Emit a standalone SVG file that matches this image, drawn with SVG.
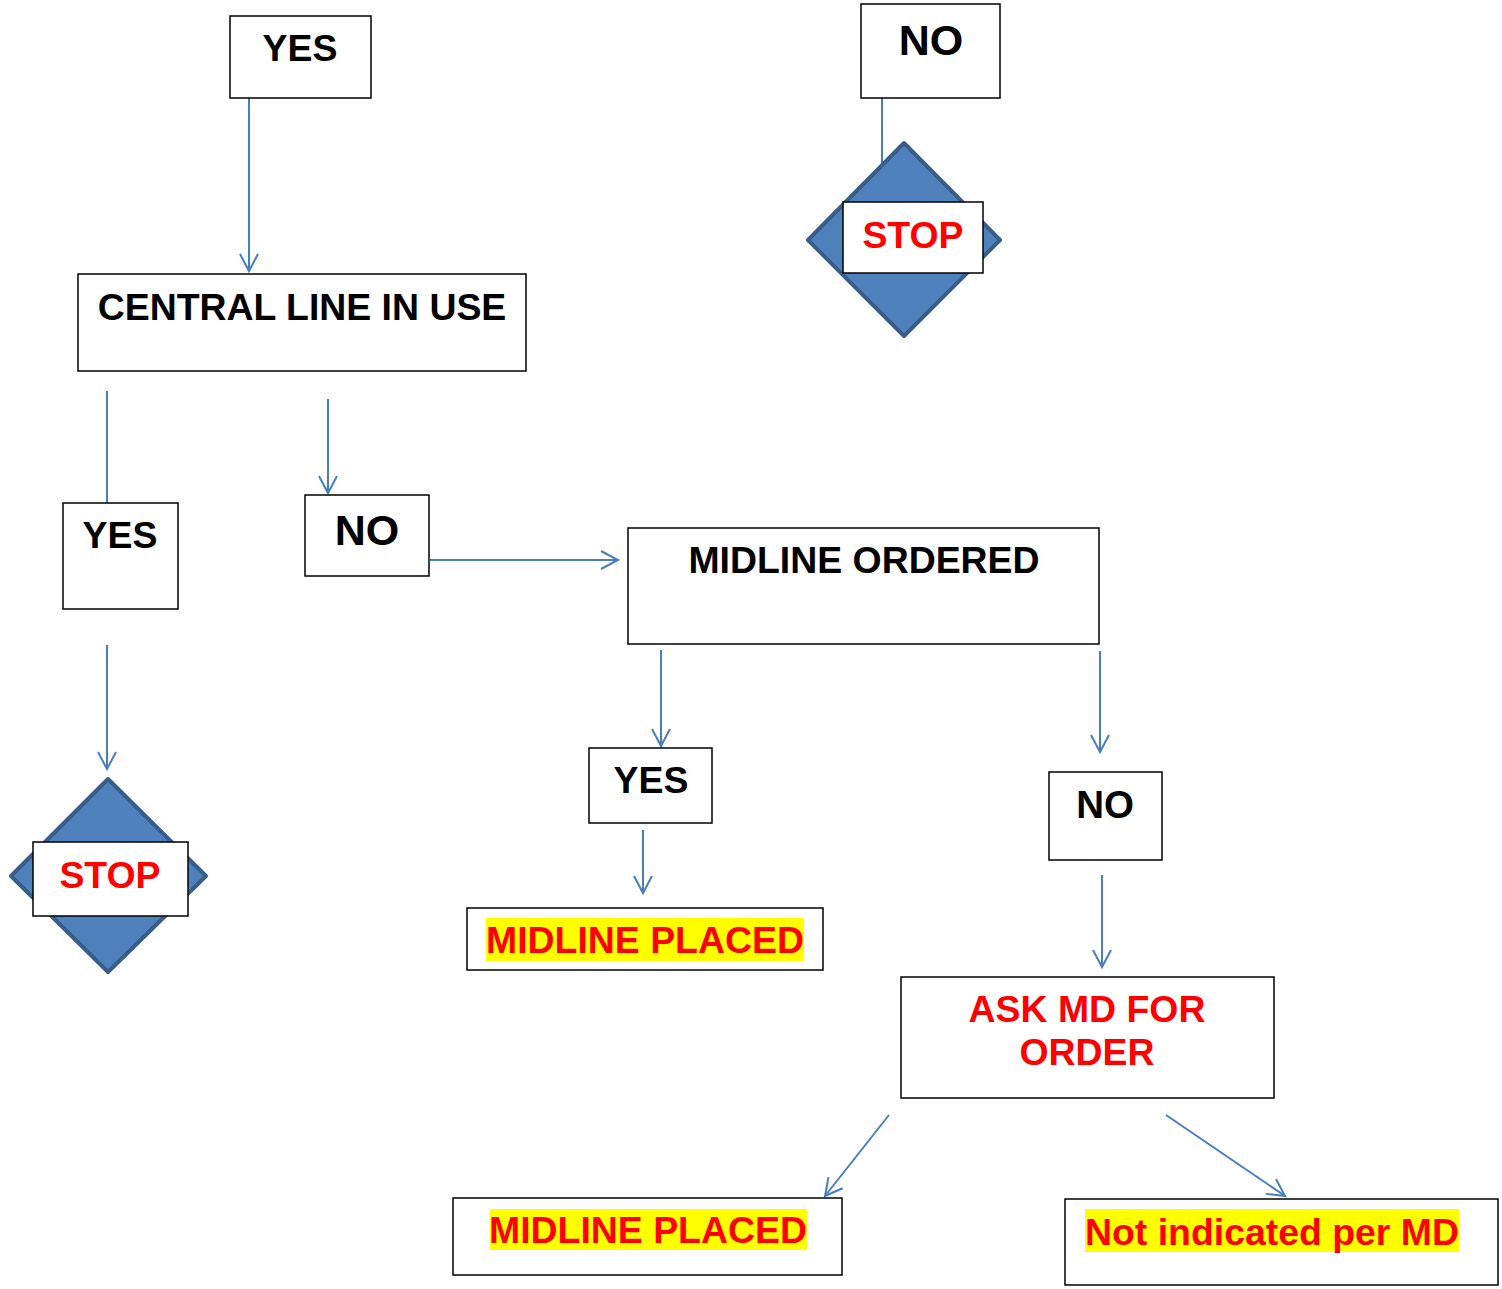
<svg xmlns="http://www.w3.org/2000/svg" width="1502" height="1289" viewBox="0 0 1502 1289">
<defs>
<marker id="arr" markerWidth="22" markerHeight="22" refX="18" refY="10" orient="auto" markerUnits="userSpaceOnUse">
<path d="M1,1 L18,10 L1,19" fill="none" stroke="#4a7ebb" stroke-width="2"/>
</marker>
<style>
.box{fill:#fff;stroke:#000;stroke-width:1.5}
.dia{fill:#4f81bd;stroke:#385d8a;stroke-width:4;stroke-linejoin:round}
.t{font-family:"Liberation Sans",Arial,sans-serif;font-weight:bold;font-size:37.4px;text-anchor:middle;fill:#000}
.r{fill:#ff0000}
.hl{fill:#ffff00}
.c line{stroke:#4a7ebb;stroke-width:2}
</style>
</defs>
<rect width="1502" height="1289" fill="#fff"/>
<g class="c" id="connectors">
<line x1="249" y1="98" x2="249" y2="271" marker-end="url(#arr)"/>
<line x1="882" y1="98" x2="882" y2="168"/>
<line x1="107" y1="391" x2="107" y2="503"/>
<line x1="328" y1="399" x2="328" y2="493" marker-end="url(#arr)"/>
<line x1="430" y1="560" x2="618" y2="560" marker-end="url(#arr)"/>
<line x1="107" y1="645" x2="107" y2="769" marker-end="url(#arr)"/>
<line x1="661" y1="650" x2="661" y2="746" marker-end="url(#arr)"/>
<line x1="643" y1="830" x2="643" y2="893" marker-end="url(#arr)"/>
<line x1="1100" y1="651" x2="1100" y2="752" marker-end="url(#arr)"/>
<line x1="1102" y1="875" x2="1102" y2="967" marker-end="url(#arr)"/>
<line x1="889" y1="1115" x2="825" y2="1196" marker-end="url(#arr)"/>
<line x1="1166" y1="1115" x2="1285" y2="1196" marker-end="url(#arr)"/>
</g>
<g id="yes-top"><rect class="box" x="230" y="16" width="141" height="82"/><text class="t" x="300" y="61">YES</text></g>
<g id="no-top"><rect class="box" x="861" y="4" width="139" height="94"/><text class="t" x="931" y="55" style="font-size:43px">NO</text></g>
<g id="stop-top"><polygon class="dia" points="904,143 1000,240 904,336 808,240"/><rect class="box" x="843" y="202" width="140" height="71"/><text class="t r" x="913" y="248">STOP</text></g>
<g id="central"><rect class="box" x="78" y="274" width="448" height="97"/><text class="t" x="302" y="320">CENTRAL LINE IN USE</text></g>
<g id="yes-left"><rect class="box" x="63" y="503" width="115" height="106"/><text class="t" x="120" y="548">YES</text></g>
<g id="no-mid"><rect class="box" x="305" y="495" width="124" height="81"/><text class="t" x="367" y="545" style="font-size:43px">NO</text></g>
<g id="midline-ordered"><rect class="box" x="628" y="528" width="471" height="116"/><text class="t" x="864" y="573">MIDLINE ORDERED</text></g>
<g id="stop-left"><polygon class="dia" points="108,779 206,876 108,972 11,876"/><rect class="box" x="33" y="842" width="155" height="74"/><text class="t r" x="110" y="888">STOP</text></g>
<g id="yes-mid"><rect class="box" x="589" y="748" width="123" height="75"/><text class="t" x="651" y="793">YES</text></g>
<g id="placed1"><rect class="box" x="467" y="908" width="356" height="62"/><rect class="hl" x="486" y="918" width="318" height="43"/><text class="t r" x="645" y="953">MIDLINE PLACED</text></g>
<g id="no-right"><rect class="box" x="1049" y="772" width="113" height="88"/><text class="t" x="1105" y="818" style="font-size:38.5px">NO</text></g>
<g id="ask"><rect class="box" x="901" y="977" width="373" height="121"/><text class="t r" x="1087" y="1022">ASK MD FOR</text><text class="t r" x="1087" y="1065">ORDER</text></g>
<g id="placed2"><rect class="box" x="453" y="1198" width="389" height="77"/><rect class="hl" x="490" y="1209" width="317" height="41"/><text class="t r" x="648" y="1243">MIDLINE PLACED</text></g>
<g id="not-indicated"><rect class="box" x="1065" y="1199" width="433" height="86"/><rect class="hl" x="1085" y="1209" width="374" height="43"/><text class="t r" x="1272" y="1245">Not indicated per MD</text></g>
</svg>
